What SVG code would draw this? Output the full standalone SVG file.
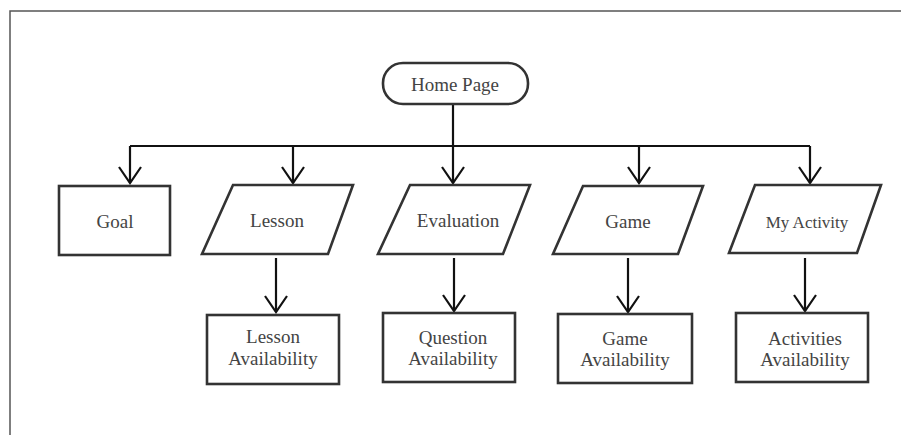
<svg xmlns="http://www.w3.org/2000/svg" width="901" height="435" viewBox="0 0 901 435">
<defs>
<marker id="arr" markerWidth="26" markerHeight="20" refX="12" refY="17" orient="0" markerUnits="userSpaceOnUse">
<path d="M1,1 L12,17 L23,1" fill="none" stroke="#111" stroke-width="2.2"/>
</marker>
<style>
.box{fill:#fff;stroke:#333;stroke-width:2.6}
.ln{fill:none;stroke:#111;stroke-width:2.2}
.t{font-family:"Liberation Serif","Times New Roman",serif;font-size:19px;fill:#444;text-anchor:middle}
.frame{stroke:#555;stroke-width:1.5;fill:none}
</style>
</defs>
<rect width="901" height="435" fill="#fff"/>
<path class="frame" d="M10,435 L10,11 L901,11"/>
<g id="connectors">
<path class="ln" d="M453,104 L453,146"/>
<path class="ln" d="M130,146 L810,146"/>
<path class="ln" d="M130,146 L130,183" marker-end="url(#arr)"/>
<path class="ln" d="M293,146 L293,183" marker-end="url(#arr)"/>
<path class="ln" d="M453,146 L453,183" marker-end="url(#arr)"/>
<path class="ln" d="M639,146 L639,183" marker-end="url(#arr)"/>
<path class="ln" d="M810,146 L810,183" marker-end="url(#arr)"/>
<path class="ln" d="M276,258 L276,312" marker-end="url(#arr)"/>
<path class="ln" d="M454,258 L454,311" marker-end="url(#arr)"/>
<path class="ln" d="M628,258 L628,312" marker-end="url(#arr)"/>
<path class="ln" d="M805,258 L805,311" marker-end="url(#arr)"/>
</g>
<g id="home">
<rect class="box" x="383" y="63" width="145" height="41" rx="20" ry="20"/>
<text class="t" x="455" y="91">Home Page</text>
</g>
<g id="goal">
<rect class="box" x="59" y="186" width="111" height="69"/>
<text class="t" x="115" y="228">Goal</text>
</g>
<g id="lesson">
<polygon class="box" points="233,185 353,185 328,254 202,254"/>
<text class="t" x="277" y="227">Lesson</text>
</g>
<g id="evaluation">
<polygon class="box" points="410,185 530,185 503,254 378,254"/>
<text class="t" x="458" y="227">Evaluation</text>
</g>
<g id="game">
<polygon class="box" points="583,186 703,186 678,254 553,254"/>
<text class="t" x="628" y="228">Game</text>
</g>
<g id="myactivity">
<polygon class="box" points="755,185 881,185 857,253 729,253"/>
<text class="t" x="807" y="228" style="font-size:17px">My Activity</text>
</g>
<g id="lessonavail">
<rect class="box" x="207" y="315" width="132" height="69"/>
<text class="t" x="273" y="343">Lesson</text>
<text class="t" x="273" y="365">Availability</text>
</g>
<g id="questionavail">
<rect class="box" x="383" y="313" width="132" height="69"/>
<text class="t" x="453" y="344">Question</text>
<text class="t" x="453" y="365">Availability</text>
</g>
<g id="gameavail">
<rect class="box" x="558" y="314" width="134" height="69"/>
<text class="t" x="625" y="345">Game</text>
<text class="t" x="625" y="366">Availability</text>
</g>
<g id="activitiesavail">
<rect class="box" x="736" y="313" width="132" height="69"/>
<text class="t" x="805" y="345">Activities</text>
<text class="t" x="805" y="366">Availability</text>
</g>
</svg>
